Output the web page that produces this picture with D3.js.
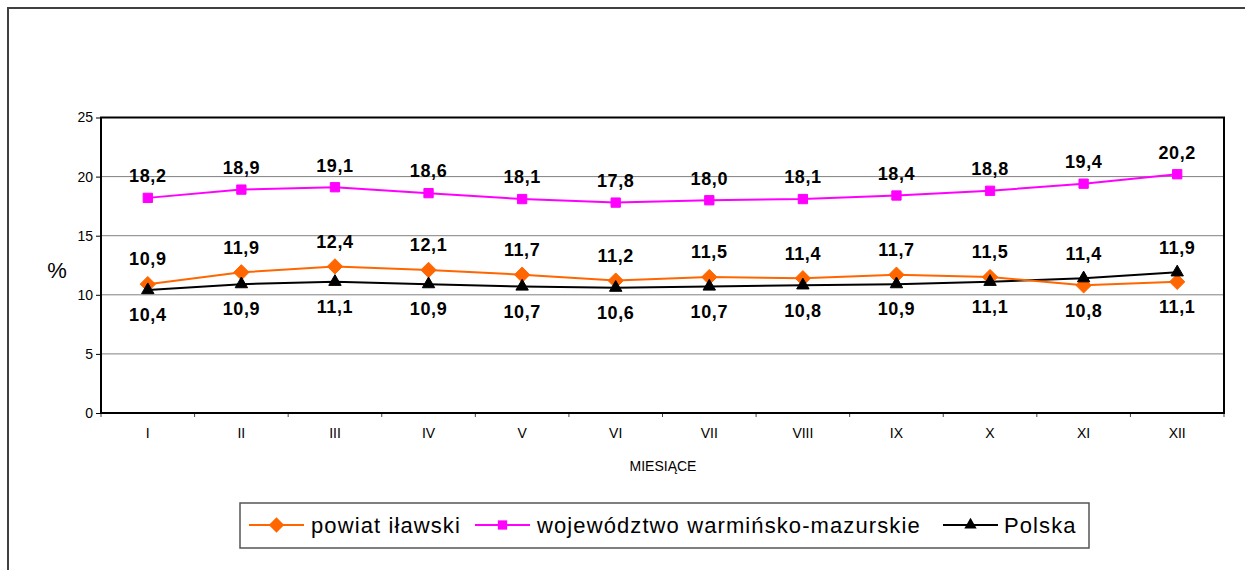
<!DOCTYPE html>
<html><head><meta charset="utf-8">
<script src="https://cdn.jsdelivr.net/npm/d3@7"></script>
<style>body{margin:0;background:#fff}svg{display:block;font-family:Arial,"Liberation Sans",sans-serif}</style>
</head><body><svg id="c" width="1245" height="570"></svg>
<script>
const months = ["I","II","III","IV","V","VI","VII","VIII","IX","X","XI","XII"];
const powiat = [10.9,11.9,12.4,12.1,11.7,11.2,11.5,11.4,11.7,11.5,10.8,11.1];
const wojewodztwo = [18.2,18.9,19.1,18.6,18.1,17.8,18.0,18.1,18.4,18.8,19.4,20.2];
const polska = [10.4,10.9,11.1,10.9,10.7,10.6,10.7,10.8,10.9,11.1,11.4,11.9];
const yTicks = [0,5,10,15,20,25];
const seriesNames = ["powiat iławski","województwo warmińsko-mazurskie","Polska"];

const svg = d3.select("#c");
const L=101,R=1224,T=117.5,B=413;
const x = d3.scaleBand().domain(months).range([L,R]);
const y = d3.scaleLinear().domain([0,25]).range([B,T]);
const fmt = v => d3.format(".1f")(v).replace(".",",");

// outer border
svg.append("rect").attr("x",8).attr("y",8).attr("width",1250).attr("height",580)
  .attr("fill","none").attr("stroke","#404040").attr("stroke-width",2);

// gridlines
svg.append("g").selectAll("line").data(yTicks.filter(d=>d>0&&d<25)).join("line")
  .attr("x1",L).attr("x2",R).attr("y1",d=>y(d)).attr("y2",d=>y(d))
  .attr("stroke","#808080").attr("stroke-width",1);

// y axis
const ya = svg.append("g").attr("transform",`translate(${L},0)`)
  .call(d3.axisLeft(y).tickValues(yTicks).tickSize(5).tickPadding(3).tickFormat(d=>d));
ya.select(".domain").remove();
ya.selectAll("line").attr("stroke","#000");
ya.selectAll("text").attr("font-size",14).attr("fill","#000").attr("font-family","Arial");

// x axis with ticks at boundaries
const xa = svg.append("g").attr("transform",`translate(0,${B})`)
  .call(d3.axisBottom(x).tickSize(0).tickPadding(15));
xa.select(".domain").remove();
xa.selectAll("text").attr("font-size",14).attr("fill","#000").attr("font-family","Arial");
svg.append("g").selectAll("line").data(d3.range(months.length+1)).join("line")
  .attr("x1",i=>L+i*x.step()).attr("x2",i=>L+i*x.step()).attr("y1",B).attr("y2",B+4)
  .attr("stroke","#444");

// plot border
svg.append("rect").attr("x",L).attr("y",T).attr("width",R-L).attr("height",B-T)
  .attr("fill","none").attr("stroke","#000").attr("stroke-width",2);

// axis titles
svg.append("text").attr("x",57).attr("y",270).attr("dy","0.35em").attr("text-anchor","middle")
  .attr("font-size",22).text("%");
svg.append("text").attr("x",663).attr("y",466).attr("dy","0.35em").attr("text-anchor","middle")
  .attr("font-size",14).text("MIESIĄCE");

const cx = m => x(m)+x.bandwidth()/2;
const line = d3.line().x((d,i)=>cx(months[i])).y(d=>y(d));
const series = [
  {vals:powiat,color:"#FF6600",shape:d3.symbolDiamond2,size:150},
  {vals:wojewodztwo,color:"#FF00FF",shape:d3.symbolSquare2,size:110},
  {vals:polska,color:"#000000",shape:d3.symbolTriangle2,size:110}
];
[series[2],series[0],series[1]].forEach(s=>{
  svg.append("path").attr("d",line(s.vals)).attr("fill","none").attr("stroke",s.color).attr("stroke-width",2);
});
[series[0],series[2],series[1]].forEach(s=>{
  svg.append("g").selectAll("path").data(s.vals).join("path")
    .attr("transform",(d,i)=>`translate(${cx(months[i])},${y(d)})`)
    .attr("d",d3.symbol(s.shape,s.size)).attr("fill",s.color).attr("stroke",s.color).attr("stroke-width",1);
});

// labels
const lab = svg.append("g").attr("font-size",18).attr("font-weight","bold").attr("letter-spacing",0.6)
  .attr("text-anchor","middle").attr("fill","#000");
months.forEach((m,i)=>{
  lab.append("text").attr("x",cx(m)).attr("y",y(wojewodztwo[i])-22).attr("dy","0.35em").text(fmt(wojewodztwo[i]));
  const hi = Math.max(powiat[i],polska[i]), lo = Math.min(powiat[i],polska[i]);
  lab.append("text").attr("x",cx(m)).attr("y",y(hi)-25).attr("dy","0.35em").text(fmt(hi));
  lab.append("text").attr("x",cx(m)).attr("y",y(lo)+25).attr("dy","0.35em").text(fmt(lo));
});

// legend
const lg = svg.append("g");
lg.append("rect").attr("x",240).attr("y",503).attr("width",849).attr("height",45)
  .attr("fill","#fff").attr("stroke","#555").attr("stroke-width",1.5);
const items = [
  {x:249, tx:311, s:series[0]},
  {x:475, tx:537, s:series[1]},
  {x:943, tx:1004, s:series[2]}
];
items.forEach((it,k)=>{
  const yy=525;
  lg.append("line").attr("x1",it.x).attr("x2",it.x+55).attr("y1",yy).attr("y2",yy)
    .attr("stroke",it.s.color).attr("stroke-width",2);
  lg.append("path").attr("transform",`translate(${it.x+27.5},${yy})`)
    .attr("d",d3.symbol(it.s.shape,it.s.size)).attr("fill",it.s.color);
  lg.append("text").attr("x",it.tx).attr("y",yy).attr("dy","0.35em")
    .attr("font-size",22).attr("letter-spacing",1.1).text(seriesNames[k]);
});
</script></body></html>
